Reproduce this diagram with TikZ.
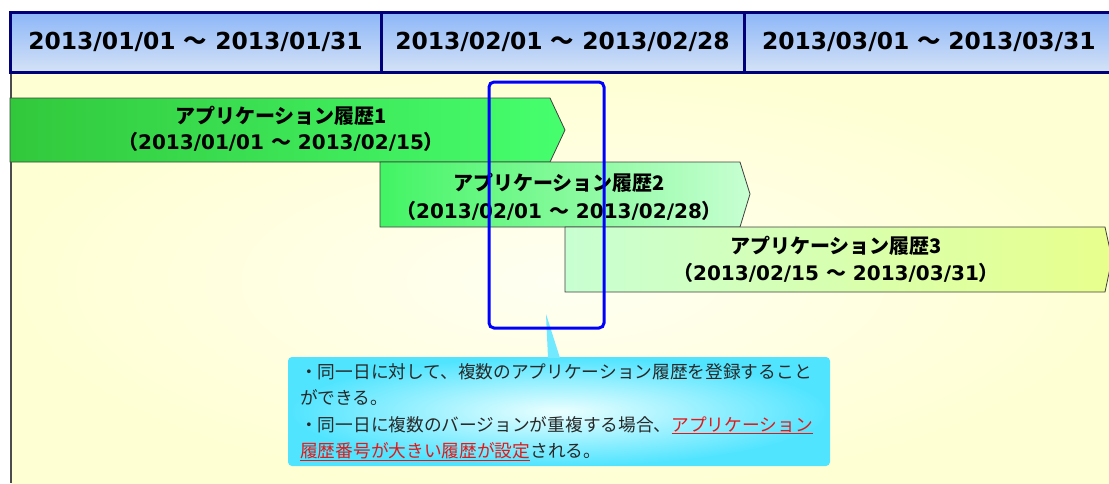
\documentclass[tikz,border=0pt]{standalone}
\usepackage{fontspec}
\setmainfont{DejaVu Sans}
\newfontfamily\jp{Noto Sans CJK JP}
\definecolor{navyline}{RGB}{0,0,120}
\definecolor{hdrtop}{RGB}{140,182,248}
\definecolor{hdrbot}{RGB}{212,226,246}
\definecolor{bgout}{RGB}{255,255,212}
\definecolor{bgin}{RGB}{255,255,242}
\definecolor{gA}{RGB}{50,200,60}
\definecolor{gB}{RGB}{70,255,110}
\definecolor{gC}{RGB}{200,255,210}
\definecolor{gD}{RGB}{232,255,140}
\definecolor{cyanout}{RGB}{80,228,255}
\definecolor{cyanin}{RGB}{235,255,255}
\definecolor{hlred}{RGB}{225,25,25}
\definecolor{txtgray}{RGB}{40,40,40}
\newcommand\hlred[1]{\textcolor{hlred}{\underline{#1}}}
\newcommand\wave{{\jp\bfseries ～}}
\tikzset{
  hdrcell/.style={draw=navyline, line width=3pt, top color=hdrtop, bottom color=hdrbot,
    minimum height=60pt, inner sep=0pt, font=\bfseries\fontsize{23.4}{28}\selectfont},
  barshape/.style={draw=black!75, line width=0.8pt},
  bartitle/.style={font=\jp\bfseries\fontsize{20}{24}\selectfont, inner sep=0pt},
  bardate/.style={font=\bfseries\fontsize{20}{24}\selectfont, inner sep=0pt},
  focusbox/.style={draw=blue, line width=3pt, rounded corners=5pt},
  callout/.style={rounded corners=4pt, inner color=cyanin, outer color=cyanout},
}
\begin{document}
\begin{tikzpicture}[x=1pt,y=-1pt]
\useasboundingbox (0,0) rectangle (1109,483);
\fill[white] (0,0) rectangle (1109,483);
% background
\path[inner color=bgin, outer color=bgout] (11,72) rectangle (1115,490);
\draw[black!70, line width=1.5pt] (11,72) -- (11,483);
% header
\node[hdrcell, minimum width=371pt] (h1) at (195.5,42) {2013/01/01 \wave{} 2013/01/31};
\node[hdrcell, minimum width=363pt] (h2) at (562.5,42) {2013/02/01 \wave{} 2013/02/28};
\node[hdrcell, minimum width=371pt, text width=371pt, align=left] (h3) at (929.5,42) {\hspace*{18pt}2013/03/01 \wave{} 2013/03/31};
% bars
\path[barshape, left color=gA, right color=gB] (10,98) -- (550,98) -- (565,130) -- (550,162) -- (10,162) -- cycle;
\node[bartitle] (b1t) at (281,116) {アプリケーション履歴1};
\node[bardate] (b1d) at (281,142) {{\jp\bfseries （}2013/01/01 \wave{} 2013/02/15{\jp\bfseries ）}};
\path[barshape, left color=gB!80!gA, right color=gC] (380,162) -- (740,162) -- (750,194) -- (740,227) -- (380,227) -- cycle;
\node[bartitle] (b2t) at (559,183) {アプリケーション履歴2};
\node[bardate] (b2d) at (559,211) {{\jp\bfseries （}2013/02/01 \wave{} 2013/02/28{\jp\bfseries ）}};
\path[barshape, left color=gC, right color=gD] (565,227) -- (1105,227) -- (1112,259) -- (1105,292) -- (565,292) -- cycle;
\node[bartitle] (b3t) at (836,246) {アプリケーション履歴3};
\node[bardate] (b3d) at (836,273) {{\jp\bfseries （}2013/02/15 \wave{} 2013/03/31{\jp\bfseries ）}};
% callout
\node[callout, minimum width=542pt, minimum height=109pt] (note) at (559,411.5) {};
\coordinate (tip) at (546,314);
\fill[cyanout!80!white] (tip) -- (548,358) -- (560,358) -- cycle;
\node[anchor=north west, inner sep=0pt, align=left, text=txtgray,
  font=\jp\fontsize{17.7}{26.5}\selectfont] (notetext) at (300,363)
  {・同一日に対して、複数のアプリケーション履歴を登録すること\\
   ができる。\\
   ・同一日に複数のバージョンが重複する場合、\hlred{アプリケーション}\\
   \hlred{履歴番号が大きい履歴が設定}される。};
% focus box
\draw[focusbox] (489,82) rectangle (604,328);
\end{tikzpicture}
\end{document}
